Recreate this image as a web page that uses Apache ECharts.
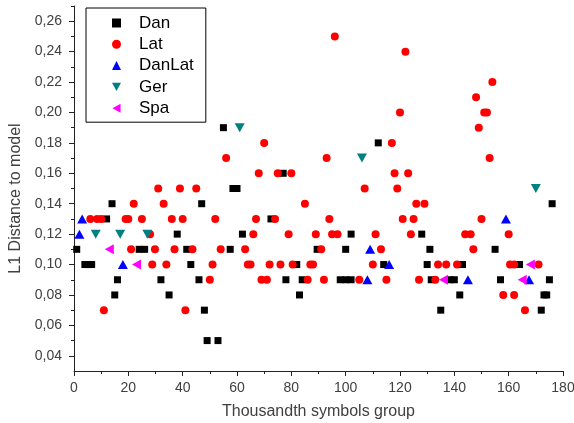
<!DOCTYPE html>
<html>
<head>
<meta charset="utf-8">
<script src="https://cdn.jsdelivr.net/npm/echarts@6/dist/echarts.min.js"></script>
<style>
html, body { margin: 0; padding: 0; background: #fff; }
#chart { width: 574px; height: 423px; }
</style>
</head>
<body>
<div id="chart"></div>
<script>
// values: [group, distance]
var dan = [[1,0.11],[4,0.10],[5.5,0.10],[6.5,0.10],[12,0.13],[14,0.14],[15,0.08],[16,0.09],
  [24,0.11],[26,0.11],[32,0.09],[35,0.08],[38,0.12],[41.5,0.11],[43,0.10],[46,0.09],[47,0.14],
  [48,0.07],[49,0.05],[53,0.05],[55,0.19],[57.5,0.11],[58.5,0.15],[60,0.15],[62,0.12],
  [72.5,0.13],[77,0.16],[78,0.09],[82,0.10],[83,0.08],[84,0.09],[89.5,0.11],[98,0.09],
  [100,0.11],[100,0.09],[102,0.09],[102,0.12],[112,0.18],[114,0.10],[128,0.12],[130,0.10],
  [131,0.11],[131.5,0.09],[135,0.07],[138.5,0.09],[140,0.09],[142,0.08],[143,0.10],[155,0.11],
  [157,0.09],[164,0.10],[172,0.07],[173,0.08],[174,0.08],[175,0.09],[176,0.14]];
var lat = [[6,0.13],[8.5,0.13],[10,0.13],[11,0.07],[19,0.13],[20,0.13],[21,0.11],[22,0.14],
  [25,0.13],[28,0.12],[28.8,0.10],[29.8,0.11],[31,0.15],[33,0.14],[34,0.10],[36,0.13],[37,0.11],
  [39,0.15],[40,0.13],[41,0.07],[43.6,0.11],[45,0.15],[50,0.09],[51,0.10],[52,0.13],[54,0.11],
  [56,0.17],[63,0.11],[64,0.10],[65,0.10],[66,0.12],[67,0.13],[68,0.16],[69,0.09],[71,0.09],
  [70,0.18],[72,0.10],[74,0.13],[75,0.16],[76,0.10],[79,0.12],[80,0.16],[80.5,0.10],[85,0.14],
  [86,0.09],[87,0.10],[88,0.10],[89,0.12],[91,0.11],[92,0.09],[93,0.17],[94,0.13],[95,0.12],
  [97,0.12],[96,0.25],[105,0.09],[107,0.15],[110,0.10],[111,0.12],[113,0.11],[115,0.09],
  [117,0.18],[118,0.16],[119,0.15],[120,0.20],[121,0.13],[122,0.24],[123,0.16],[124,0.12],
  [125,0.13],[126,0.14],[127,0.09],[129,0.14],[133,0.09],[134,0.10],[137,0.10],[141,0.10],
  [144,0.12],[146,0.12],[147,0.11],[148,0.21],[149,0.19],[150,0.13],[151,0.20],[152,0.20],
  [153,0.17],[154,0.22],[158,0.08],[160,0.12],[160.5,0.10],[162,0.10],[162,0.08],[166,0.07],
  [171,0.10]];
var danLat = [[2,0.12],[3,0.13],[18,0.10],[108,0.09],[109,0.11],[116,0.10],[145,0.09],[159,0.13],[167.5,0.09]];
var ger = [[8,0.12],[17,0.12],[27,0.12],[61,0.19],[106,0.17],[170,0.15]];
var spa = [[13,0.11],[23,0.10],[136,0.09],[165,0.09],[168,0.10]];

var yMajor = [0.04,0.06,0.08,0.10,0.12,0.14,0.16,0.18,0.20,0.22,0.24,0.26];
var yMinor = [0.05,0.07,0.09,0.11,0.13,0.15,0.17,0.19,0.21,0.23,0.25,0.27];

var chart = echarts.init(document.getElementById('chart'));

var axisColor = '#222';
var labelFont = { color: '#404040', fontSize: 14, fontFamily: 'Arial' };

chart.setOption({
  animation: false,
  backgroundColor: '#fff',
  grid: { left: 74, right: 11, top: 6, bottom: 52, outerBoundsMode: 'none' },
  legend: {
    orient: 'vertical',
    left: 86,
    top: 8,
    width: 122,
    padding: [6, 12, 5, 26],
    borderColor: '#000',
    borderWidth: 1,
    itemWidth: 9,
    itemHeight: 9,
    itemGap: 3.3,
    textStyle: { color: '#000', fontSize: 17, fontFamily: 'Arial', lineHeight: 18, padding: [0, 0, 0, 13] },
    data: [
      { name: 'Dan' },
      { name: 'Lat' },
      { name: 'DanLat' },
      { name: 'Ger', icon: 'path://M0,0 L10,0 L5,9 Z' },
      { name: 'Spa', icon: 'path://M9,0 L9,10 L0,5 Z' }
    ]
  },
  xAxis: {
    type: 'value',
    min: 0,
    max: 180,
    interval: 20,
    name: 'Thousandth symbols group',
    nameLocation: 'middle',
    nameGap: 33,
    nameTextStyle: { color: '#404040', fontSize: 16, fontFamily: 'Arial' },
    axisLine: { lineStyle: { color: axisColor, width: 1 } },
    axisTick: { inside: false, length: 5, lineStyle: { color: axisColor } },
    minorTick: { show: true, splitNumber: 2, length: 3, lineStyle: { color: axisColor } },
    axisLabel: Object.assign({ margin: 10 }, labelFont),
    splitLine: { show: false }
  },
  yAxis: [{
    type: 'value',
    min: 0.03,
    max: 0.27,
    name: 'L1 Distance to model',
    nameLocation: 'middle',
    nameGap: 46,
    nameTextStyle: { color: '#404040', fontSize: 16, fontFamily: 'Arial', padding: [0, 20, 0, 0] },
    axisLine: { show: true, lineStyle: { color: axisColor, width: 1 } },
    axisTick: { show: true, inside: false, length: 5, customValues: yMajor, lineStyle: { color: axisColor } },
    axisLabel: Object.assign({
      margin: 12,
      customValues: yMajor,
      formatter: function (v) { return v.toFixed(2).replace('.', ','); }
    }, labelFont),
    splitLine: { show: false }
  }, {
    type: 'value',
    position: 'left',
    min: 0.03,
    max: 0.27,
    axisLine: { show: false },
    axisTick: { show: true, inside: false, length: 3, customValues: yMinor, lineStyle: { color: axisColor } },
    axisLabel: { show: false },
    splitLine: { show: false }
  }],
  series: [
    { name: 'Dan', type: 'scatter', data: dan, symbol: 'rect', symbolSize: 7, itemStyle: { color: '#000000', opacity: 1 } },
    { name: 'Lat', type: 'scatter', data: lat, symbol: 'circle', symbolSize: 8, itemStyle: { color: '#ff0000', opacity: 1 } },
    { name: 'DanLat', type: 'scatter', data: danLat, symbol: 'triangle', symbolSize: [10, 9], itemStyle: { color: '#0000ff', opacity: 1 } },
    { name: 'Ger', type: 'scatter', data: ger, symbol: 'triangle', symbolSize: [10, 9], symbolRotate: 180, itemStyle: { color: '#008080', opacity: 1 } },
    { name: 'Spa', type: 'scatter', data: spa, symbol: 'triangle', symbolSize: [10, 9], symbolRotate: 90, itemStyle: { color: '#ff00ff', opacity: 1 } }
  ]
});
</script>
</body>
</html>
